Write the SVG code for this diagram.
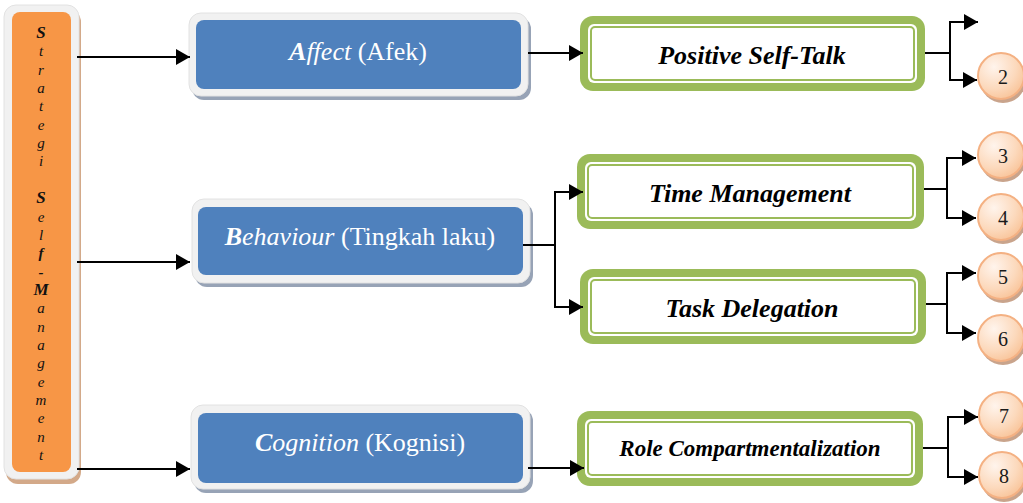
<svg xmlns="http://www.w3.org/2000/svg" width="1023" height="503" viewBox="0 0 1023 503" font-family="Liberation Serif, Tinos, Times New Roman, DejaVu Serif, serif">
<style>
.frame{fill:#F1F1F1;stroke:#E2E2E2;stroke-width:1}
.bshadow{fill:#97A3B6}
.blue{fill:#4F81BD}
.btxt{font-size:26px;fill:#FFFFFF;text-anchor:middle}
.gout{fill:#9BBB59}
.gin{fill:#FFFFFF}
.gline{fill:none;stroke:#9BBB59;stroke-width:2}
.gtxt{font-weight:bold;font-style:italic;fill:#000;text-anchor:middle}
.circ{fill:url(#peach);stroke:#F4B183;stroke-width:2}
.cshadow{fill:#C9A48C}
.ntxt{font-size:20px;fill:#1a1a1a;text-anchor:middle}
.conn{fill:none;stroke:#000;stroke-width:2}
.vtxt{font-size:15px;font-style:italic;fill:#111;text-anchor:middle}
</style>
<defs>
<radialGradient id="peach" cx="0.35" cy="0.3" r="0.8">
<stop offset="0" stop-color="#FFF4EC"/>
<stop offset="0.6" stop-color="#FCD9BC"/>
<stop offset="1" stop-color="#F8C093"/>
</radialGradient>
<marker id="arr" markerUnits="userSpaceOnUse" markerWidth="14" markerHeight="16" refX="14" refY="8" orient="auto">
<path d="M0,0 L14,8 L0,16 Z" fill="#000"/>
</marker>
</defs>

<g id="strategi">
<rect x="6" y="10" width="75" height="474" rx="12" fill="#D3A989"/>
<rect x="4" y="5" width="75" height="474" rx="12" class="frame"/>
<rect x="12" y="12" width="59" height="460" rx="8" fill="#F79646"/>
<text class="vtxt" x="41" y="38" font-family="Liberation Serif, serif"><tspan x="41" font-weight="bold" font-size="17">S</tspan><tspan x="41" dy="18.35">t</tspan><tspan x="41" dy="18.35">r</tspan><tspan x="41" dy="18.35">a</tspan><tspan x="41" dy="18.35">t</tspan><tspan x="41" dy="18.35">e</tspan><tspan x="41" dy="18.35">g</tspan><tspan x="41" dy="18.35">i</tspan><tspan x="41" dy="36.7" font-weight="bold" font-size="17">S</tspan><tspan x="41" dy="18.35">e</tspan><tspan x="41" dy="18.35">l</tspan><tspan x="41" dy="18.35" font-weight="bold">f</tspan><tspan x="41" dy="18.35" font-weight="bold">-</tspan><tspan x="41" dy="18.35" font-weight="bold" font-size="17">M</tspan><tspan x="41" dy="18.35">a</tspan><tspan x="41" dy="18.35">n</tspan><tspan x="41" dy="18.35">a</tspan><tspan x="41" dy="18.35">g</tspan><tspan x="41" dy="18.35">e</tspan><tspan x="41" dy="18.35">m</tspan><tspan x="41" dy="18.35">e</tspan><tspan x="41" dy="18.35">n</tspan><tspan x="41" dy="18.35">t</tspan></text>
</g>

<g id="affect">
<rect x="192" y="17" width="339" height="83" rx="12" class="bshadow"/>
<rect x="189" y="13" width="339" height="83" rx="12" class="frame"/>
<rect x="196" y="20" width="325" height="69" rx="8" class="blue"/>
<text class="btxt" x="358" y="60" font-family="Liberation Serif, serif"><tspan font-style="italic" font-weight="bold">A</tspan><tspan font-style="italic">ffect</tspan> (Afek)</text>
</g>

<g id="behaviour">
<rect x="195" y="203" width="338" height="84" rx="12" class="bshadow"/>
<rect x="192" y="199" width="338" height="84" rx="12" class="frame"/>
<rect x="198" y="207" width="325" height="68" rx="8" class="blue"/>
<text class="btxt" x="360" y="245" font-family="Liberation Serif, serif"><tspan font-style="italic" font-weight="bold">B</tspan><tspan font-style="italic">ehaviour</tspan> (Tingkah laku)</text>
</g>

<g id="cognition">
<rect x="194" y="409" width="339" height="84" rx="12" class="bshadow"/>
<rect x="191" y="405" width="339" height="84" rx="12" class="frame"/>
<rect x="198" y="413" width="325" height="70" rx="8" class="blue"/>
<text class="btxt" x="360" y="451" font-family="Liberation Serif, serif"><tspan font-style="italic" font-weight="bold">C</tspan><tspan font-style="italic">ognition</tspan> (Kognisi)</text>
</g>

<g id="positive-self-talk">
<rect x="580" y="16" width="345" height="75" rx="13" class="gout"/>
<rect x="588" y="24" width="329" height="59" rx="6" class="gin"/>
<rect x="591" y="27" width="323" height="53" rx="4" class="gline"/>
<text class="gtxt" x="752" y="64" font-size="26" font-family="Liberation Serif, serif">Positive Self-Talk</text>
</g>

<g id="time-management">
<rect x="577" y="154" width="347" height="75" rx="13" class="gout"/>
<rect x="585" y="162" width="331" height="59" rx="6" class="gin"/>
<rect x="588" y="165" width="325" height="53" rx="4" class="gline"/>
<text class="gtxt" x="750" y="202" font-size="26" font-family="Liberation Serif, serif">Time Management</text>
</g>

<g id="task-delegation">
<rect x="580" y="269" width="346" height="75" rx="13" class="gout"/>
<rect x="588" y="277" width="330" height="59" rx="6" class="gin"/>
<rect x="591" y="280" width="324" height="53" rx="4" class="gline"/>
<text class="gtxt" x="752" y="317" font-size="26" font-family="Liberation Serif, serif">Task Delegation</text>
</g>

<g id="role-compartmentalization">
<rect x="577" y="411" width="346" height="75" rx="13" class="gout"/>
<rect x="585" y="419" width="330" height="59" rx="6" class="gin"/>
<rect x="588" y="422" width="324" height="53" rx="4" class="gline"/>
<text class="gtxt" x="750" y="456" font-size="23" font-family="Liberation Serif, serif">Role Compartmentalization</text>
</g>

<g id="c2"><circle cx="1003" cy="80" r="23" class="cshadow"/><circle cx="1001" cy="76" r="23" class="circ"/><text class="ntxt" x="1003" y="84" font-family="Liberation Serif, serif">2</text></g>
<g id="c3"><circle cx="1003" cy="159" r="23" class="cshadow"/><circle cx="1001" cy="155" r="23" class="circ"/><text class="ntxt" x="1003" y="163" font-family="Liberation Serif, serif">3</text></g>
<g id="c4"><circle cx="1003" cy="221" r="23" class="cshadow"/><circle cx="1001" cy="217" r="23" class="circ"/><text class="ntxt" x="1003" y="225" font-family="Liberation Serif, serif">4</text></g>
<g id="c5"><circle cx="1003" cy="280" r="23" class="cshadow"/><circle cx="1001" cy="276" r="23" class="circ"/><text class="ntxt" x="1003" y="284" font-family="Liberation Serif, serif">5</text></g>
<g id="c6"><circle cx="1003" cy="342" r="23" class="cshadow"/><circle cx="1001" cy="338" r="23" class="circ"/><text class="ntxt" x="1003" y="346" font-family="Liberation Serif, serif">6</text></g>
<g id="c7"><circle cx="1004" cy="419" r="23" class="cshadow"/><circle cx="1002" cy="415" r="23" class="circ"/><text class="ntxt" x="1004" y="423" font-family="Liberation Serif, serif">7</text></g>
<g id="c8"><circle cx="1004" cy="479" r="23" class="cshadow"/><circle cx="1002" cy="475" r="23" class="circ"/><text class="ntxt" x="1004" y="483" font-family="Liberation Serif, serif">8</text></g>

<g id="connectors">
<path class="conn" d="M77,57 H190" marker-end="url(#arr)"/>
<path class="conn" d="M77,262 H190" marker-end="url(#arr)"/>
<path class="conn" d="M77,469 H190" marker-end="url(#arr)"/>
<path class="conn" d="M528,53 H583" marker-end="url(#arr)"/>
<path class="conn" d="M523,245 H555"/>
<path class="conn" d="M555,245 V192 H583" marker-end="url(#arr)"/>
<path class="conn" d="M555,245 V307 H583" marker-end="url(#arr)"/>
<path class="conn" d="M528,468 H584" marker-end="url(#arr)"/>
<path class="conn" d="M925,53 H950"/>
<path class="conn" d="M950,53 V22 H978" marker-end="url(#arr)"/>
<path class="conn" d="M950,53 V80 H977" marker-end="url(#arr)"/>
<path class="conn" d="M924,189 H947"/>
<path class="conn" d="M947,189 V158 H976" marker-end="url(#arr)"/>
<path class="conn" d="M947,189 V218 H976" marker-end="url(#arr)"/>
<path class="conn" d="M926,304 H947"/>
<path class="conn" d="M947,304 V273 H976" marker-end="url(#arr)"/>
<path class="conn" d="M947,304 V333 H976" marker-end="url(#arr)"/>
<path class="conn" d="M923,448 H948"/>
<path class="conn" d="M948,448 V417 H978" marker-end="url(#arr)"/>
<path class="conn" d="M948,448 V477 H978" marker-end="url(#arr)"/>
</g>
</svg>
